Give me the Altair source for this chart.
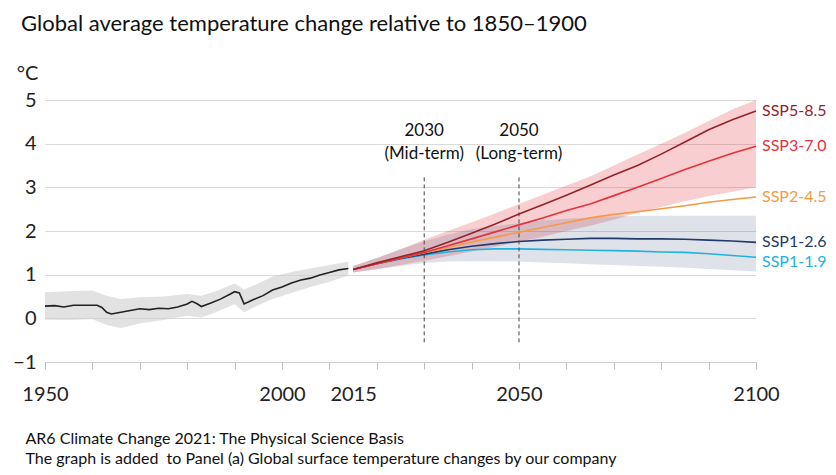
import altair as alt
import pandas as pd

# ---------------- data ----------------
hist_years = [1950, 1952, 1954, 1956, 1958, 1960, 1961, 1962, 1963, 1964,
              1966, 1968, 1970, 1972, 1974, 1976, 1978, 1980, 1981, 1982,
              1983, 1985, 1987, 1989, 1990, 1991, 1992, 1994, 1996, 1998,
              2000, 2002, 2004, 2006, 2008, 2010, 2012, 2014]
hist_mean = [0.28, 0.29, 0.26, 0.30, 0.30, 0.30, 0.30, 0.25, 0.14, 0.10,
             0.14, 0.18, 0.22, 0.20, 0.23, 0.22, 0.26, 0.33, 0.39, 0.34,
             0.27, 0.35, 0.44, 0.55, 0.61, 0.58, 0.33, 0.43, 0.52, 0.65,
             0.72, 0.81, 0.88, 0.92, 0.99, 1.05, 1.11, 1.14]

hist_band_years = [1950, 1955, 1960, 1963, 1966, 1970, 1975, 1980, 1983, 1986,
                   1990, 1992, 1995, 1998, 2002, 2006, 2010, 2014]
hist_band_high = [0.60, 0.62, 0.64, 0.52, 0.44, 0.48, 0.50, 0.56, 0.52, 0.62,
                  0.80, 0.66, 0.80, 0.96, 1.06, 1.14, 1.22, 1.30]
hist_band_low = [-0.03, -0.04, -0.02, -0.15, -0.22, -0.12, -0.04, 0.06, 0.02, 0.14,
                 0.32, 0.14, 0.30, 0.44, 0.58, 0.72, 0.84, 0.98]

proj_years = [2015, 2020, 2025, 2030, 2035, 2040, 2045, 2050, 2055, 2060,
              2065, 2070, 2075, 2080, 2085, 2090, 2095, 2100]
ssp119 = [1.12, 1.25, 1.36, 1.45, 1.52, 1.57, 1.59, 1.59, 1.58, 1.57,
          1.56, 1.55, 1.54, 1.52, 1.51, 1.48, 1.44, 1.40]
ssp126 = [1.12, 1.25, 1.37, 1.47, 1.57, 1.65, 1.71, 1.76, 1.79, 1.81,
          1.83, 1.83, 1.82, 1.82, 1.81, 1.79, 1.77, 1.74]
ssp245 = [1.12, 1.25, 1.38, 1.50, 1.62, 1.75, 1.86, 1.97, 2.08, 2.19,
          2.30, 2.38, 2.44, 2.51, 2.58, 2.66, 2.72, 2.78]
ssp370 = [1.12, 1.25, 1.38, 1.51, 1.66, 1.82, 1.98, 2.14, 2.30, 2.47,
          2.62, 2.81, 3.00, 3.20, 3.41, 3.60, 3.78, 3.94]
ssp585 = [1.12, 1.27, 1.41, 1.55, 1.74, 1.95, 2.16, 2.39, 2.60, 2.82,
          3.05, 3.28, 3.50, 3.76, 4.04, 4.32, 4.55, 4.75]

high_band_upper = [1.20, 1.38, 1.58, 1.80, 2.00, 2.20, 2.40, 2.62, 2.83, 3.04,
                   3.25, 3.50, 3.75, 4.00, 4.25, 4.52, 4.78, 5.00]
high_band_lower = [1.05, 1.13, 1.22, 1.32, 1.42, 1.53, 1.64, 1.75, 1.87, 2.00,
                   2.12, 2.26, 2.42, 2.55, 2.68, 2.80, 2.90, 3.00]
low_band_upper = [1.20, 1.38, 1.58, 1.76, 1.92, 2.04, 2.12, 2.18, 2.24, 2.28,
                  2.31, 2.33, 2.35, 2.35, 2.35, 2.35, 2.35, 2.35]
low_band_lower = [1.05, 1.12, 1.20, 1.27, 1.30, 1.31, 1.31, 1.30, 1.28, 1.26,
                  1.24, 1.22, 1.20, 1.18, 1.16, 1.13, 1.10, 1.07]

scen_names = ["SSP1-1.9", "SSP1-2.6", "SSP2-4.5", "SSP3-7.0", "SSP5-8.5"]
scen_colors = ["#22b2e2", "#1f3b6b", "#f39a45", "#e6323b", "#962229"]
scen_series = [ssp119, ssp126, ssp245, ssp370, ssp585]

marker_years = [2030, 2050]
marker_labels = ["2030\n(Mid-term)", "2050\n(Long-term)"]
marker_text_y = [4.48, 4.48]
marker_rule_top = [3.25, 3.25]
marker_rule_bottom = [-0.55, -0.55]

x_tick_values = [1950, 1960, 1970, 1980, 1990, 2000, 2010, 2015, 2020, 2030,
                 2040, 2050, 2060, 2070, 2080, 2090, 2100]
x_label_values = [1950, 2000, 2015, 2050, 2100]
y_tick_values = [-1, 0, 1, 2, 3, 4, 5]

title_text = "Global average temperature change relative to 1850–1900"
footer_lines = ["AR6 Climate Change 2021: The Physical Science Basis",
                "The graph is added \u00a0to Panel (a) Global surface temperature changes by our company"]

# ---------------- tables ----------------
hist_df = pd.DataFrame({"year": hist_years, "value": hist_mean})
hist_band_df = pd.DataFrame({"year": hist_band_years, "low": hist_band_low, "high": hist_band_high})
bands_df = pd.DataFrame({
    "year": proj_years,
    "hi_up": high_band_upper, "hi_lo": high_band_lower,
    "lo_up": low_band_upper, "lo_lo": low_band_lower,
})
rows = []
for name, series in zip(scen_names, scen_series):
    for yr, v in zip(proj_years, series):
        rows.append({"scenario": name, "year": yr, "value": v})
proj_df = pd.DataFrame(rows)
end_df = proj_df[proj_df["year"] == proj_years[-1]]
end_main = end_df[end_df["scenario"] != "SSP1-1.9"]
end_low = end_df[end_df["scenario"] == "SSP1-1.9"]
marker_df = pd.DataFrame({"year": marker_years, "label": marker_labels,
                          "ty": marker_text_y, "top": marker_rule_top,
                          "bottom": marker_rule_bottom})

FONT = "Lato"
label_expr = "indexof(" + str(x_label_values) + ", datum.value) >= 0 ? '' + datum.value : ''"

x_axis = alt.Axis(
    values=x_tick_values, labelExpr=label_expr, grid=False,
    domainColor="#cfcfcf", tickColor="#bdbdbd", tickSize=7,
    tickOpacity={"condition": {"test": "datum.value === 2015", "value": 0}, "value": 1},
    labelFont=FONT, labelFontSize=20, labelColor="#222222", labelPadding=15,
    labelFlush=False, labelOverlap=False,
    title=footer_lines, titleFont=FONT, titleFontSize=16, titleFontWeight="normal",
    titleColor="#111111", titleAnchor="start", titleAlign="left",
    titleBaseline="alphabetic",
    titleX=-20, titleY=81, titleLineHeight=20,
)
y_axis = alt.Axis(
    values=y_tick_values, format="d", domain=False, ticks=False,
    gridColor="#d9d9d9", gridWidth=1,
    labelFont=FONT, labelFontSize=20, labelColor="#222222", labelPadding=9,
    title="°C", titleAngle=0, titleFont=FONT, titleFontSize=20, titleFontWeight="normal",
    titleColor="#222222", titleAlign="center", titleBaseline="middle",
    titleX=-18, titleY=-27,
)
xs = alt.Scale(domain=[1950, 2100], nice=False)
ys = alt.Scale(domain=[-1, 5], nice=False, zero=False)

hist_band = alt.Chart(hist_band_df).mark_area(color="#cfcfcf", opacity=0.6).encode(
    x=alt.X("year:Q", scale=xs, axis=x_axis),
    y=alt.Y("low:Q", scale=ys, axis=y_axis),
    y2="high:Q",
)
hist_line = alt.Chart(hist_df).mark_line(color="#222222", strokeWidth=1.6).encode(
    x="year:Q", y="value:Q")

pink_band = alt.Chart(bands_df).mark_area(color="#e6323b", opacity=0.24).encode(
    x="year:Q", y="hi_lo:Q", y2="hi_up:Q")
blue_band = alt.Chart(bands_df).mark_area(color="#2a3f6e", opacity=0.15).encode(
    x="year:Q", y="lo_lo:Q", y2="lo_up:Q")

color_scale = alt.Scale(domain=scen_names, range=scen_colors)
lines = alt.Chart(proj_df).mark_line(strokeWidth=1.6).encode(
    x="year:Q", y="value:Q",
    color=alt.Color("scenario:N", scale=color_scale, legend=None),
)

rules = alt.Chart(marker_df).mark_rule(color="#444444", strokeWidth=1, strokeDash=[4, 3]).encode(
    x="year:Q", y="bottom:Q", y2="top:Q")
marker_text = alt.Chart(marker_df).mark_text(
    font=FONT, fontSize=17, color="#111111", align="center", baseline="top",
    lineBreak="\n", lineHeight=23,
).encode(x="year:Q", y="ty:Q", text="label:N")

labels_main = alt.Chart(end_main).mark_text(
    font=FONT, fontSize=16, align="left", baseline="middle", dx=6,
).encode(x="year:Q", y="value:Q", text="scenario:N",
         color=alt.Color("scenario:N", scale=color_scale, legend=None))
labels_low = alt.Chart(end_low).mark_text(
    font=FONT, fontSize=16, align="left", baseline="middle", dx=6, dy=5,
).encode(x="year:Q", y="value:Q", text="scenario:N",
         color=alt.Color("scenario:N", scale=color_scale, legend=None))

chart = alt.layer(
    hist_band, hist_line, pink_band, blue_band, lines, rules, marker_text,
    labels_main, labels_low,
).properties(
    width=711, height=262,
    title=alt.TitleParams(title_text, anchor="start", frame="group", dx=-24, offset=5,
                          baseline="bottom",
                          font=FONT, fontSize=22, fontWeight="normal", color="#111111"),
    autosize=alt.AutoSizeParams(type="none"),
    padding={"left": 37, "top": 92, "right": 72, "bottom": 105},
).configure_view(stroke=None)

chart.save("out.html", embed_options={"renderer": "svg", "actions": False})
